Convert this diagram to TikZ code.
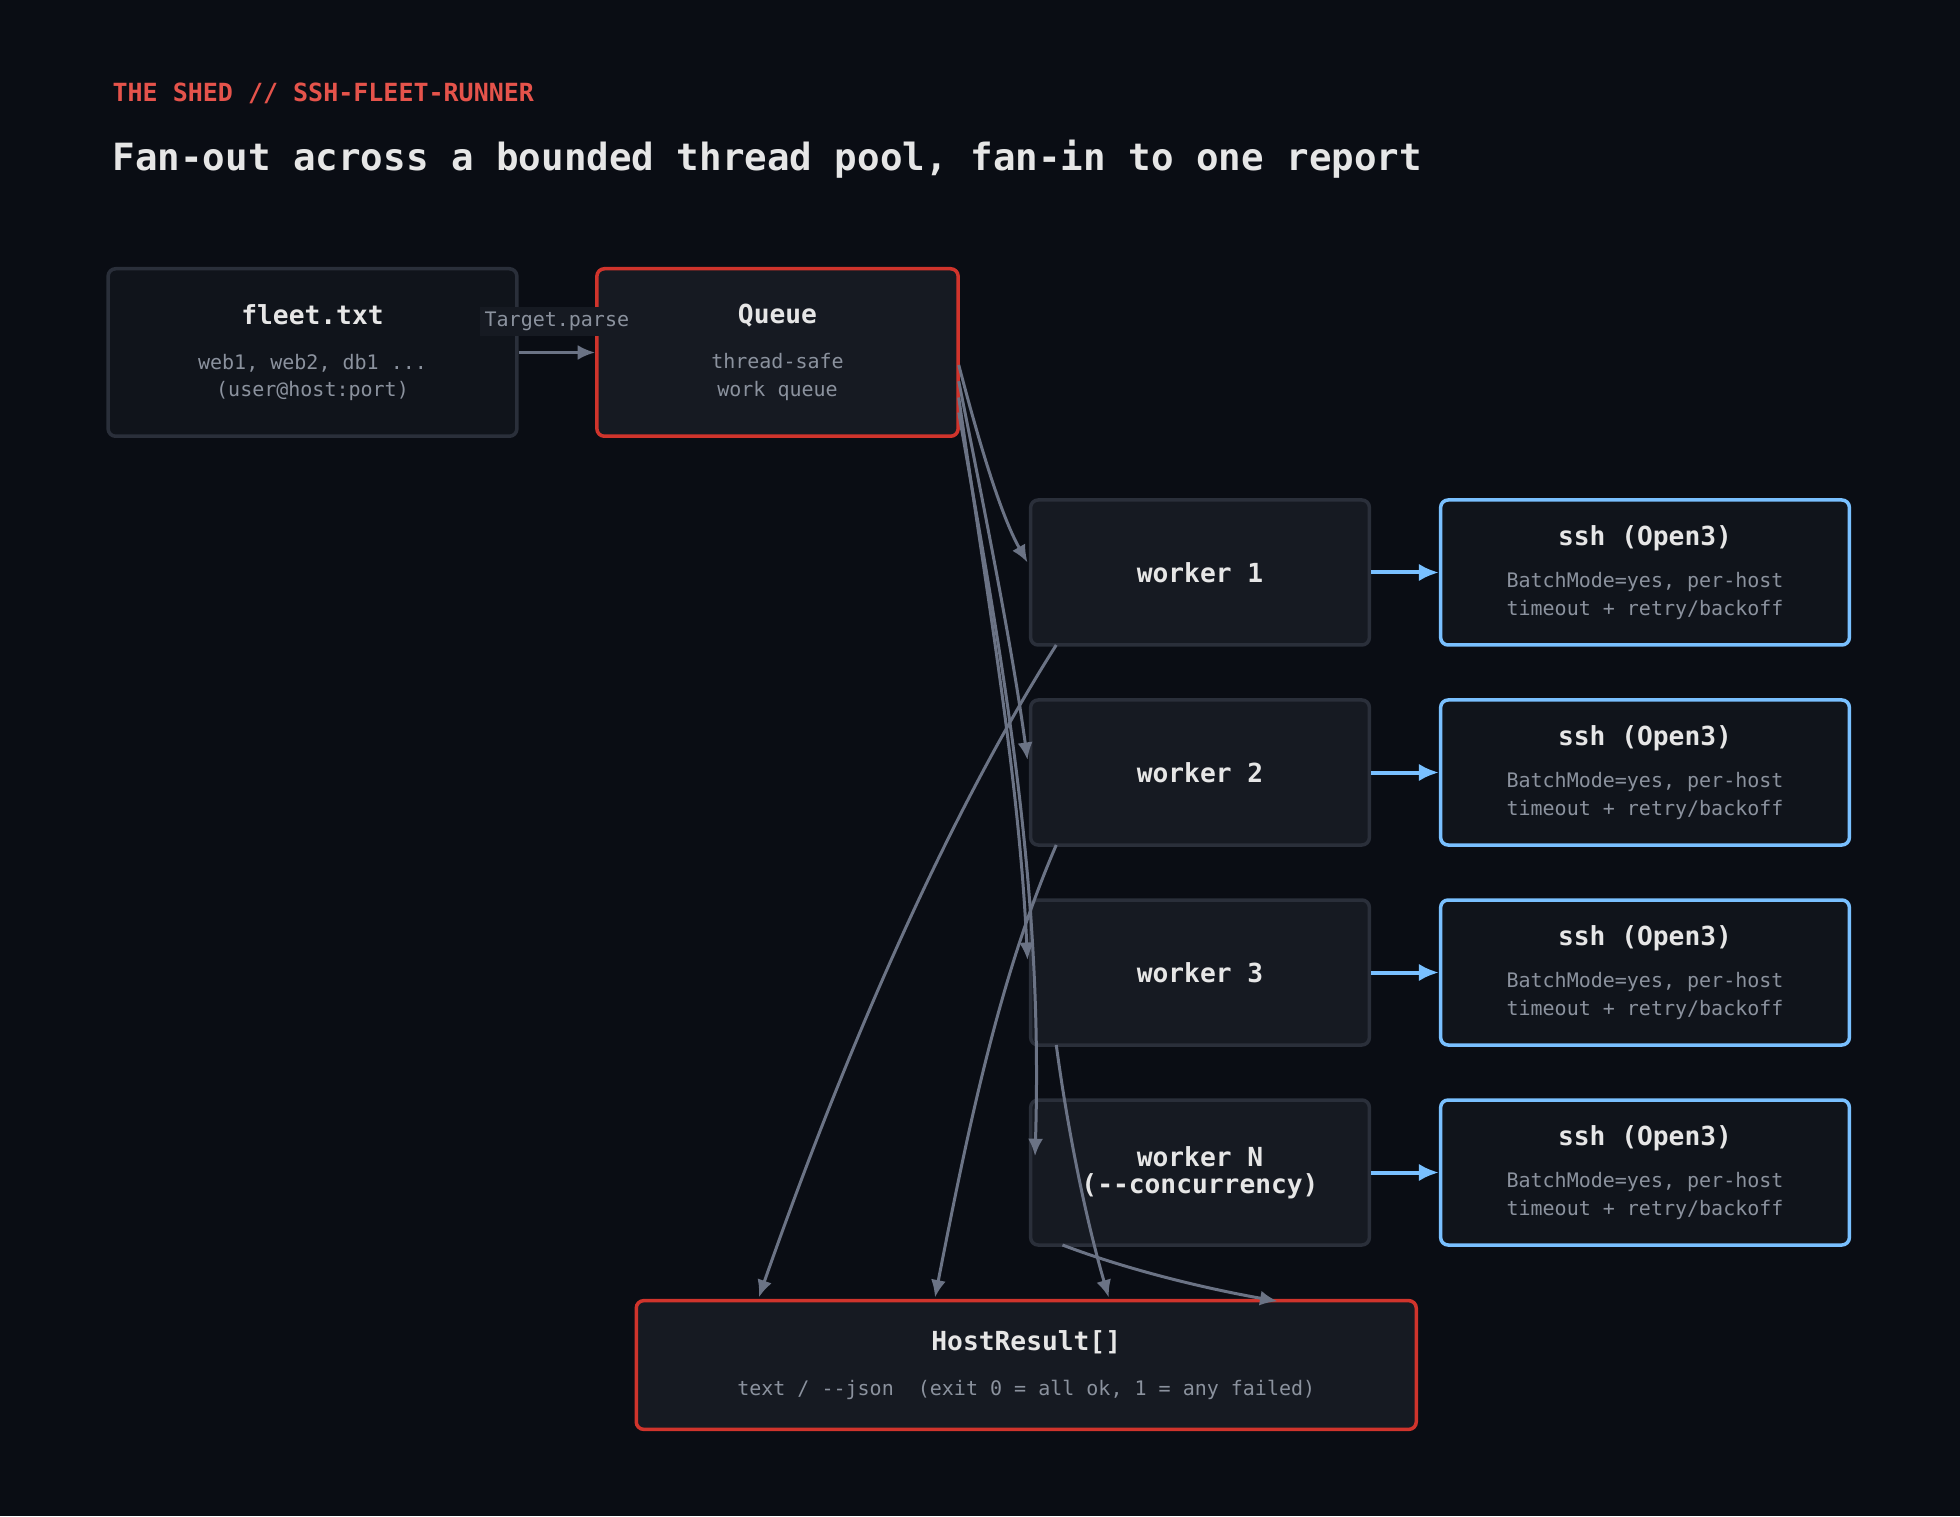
\documentclass[tikz,border=0pt]{standalone}
\usepackage{fontspec}
\setmainfont{DejaVu Sans Mono}
\usetikzlibrary{arrows.meta}
\definecolor{bg}{HTML}{0A0D14}
\definecolor{nfill}{HTML}{161A22}
\definecolor{nfill2}{HTML}{10141B}
\definecolor{gborder}{HTML}{2A2F3A}
\definecolor{rborder}{HTML}{D0342C}
\definecolor{bborder}{HTML}{79C0FF}
\definecolor{edge}{HTML}{6B7385}
\definecolor{ttext}{HTML}{E6E6E6}
\definecolor{stext}{HTML}{8B929E}
\definecolor{hred}{HTML}{E5534B}
\newcommand{\nt}{\bfseries\fontsize{10.5}{12}\selectfont}
\newcommand{\ns}{\mdseries\fontsize{8}{9}\selectfont\color{stext}}
\tikzset{
 box/.style={draw=gborder,line width=1.4pt,fill=nfill,rounded corners=3pt,inner sep=0pt,text=ttext,align=center},
 gbox/.style={box,minimum width=163.5pt,minimum height=67pt},
 qbox/.style={box,draw=rborder,minimum width=144.5pt,minimum height=67pt},
 wbox/.style={box,minimum width=135.5pt,minimum height=58pt},
 sbox/.style={box,draw=bborder,fill=nfill2,minimum width=163.5pt,minimum height=58pt},
 hbox/.style={box,draw=rborder,minimum width=312pt,minimum height=51.5pt},
 e/.style={draw=edge,line width=1.2pt,-{Latex[length=7pt,width=6pt]}},
 be/.style={draw=bborder,line width=1.6pt,-{Latex[length=8pt,width=7pt]}},
}
\begin{document}
\begin{tikzpicture}[x=0.5pt,y=-0.5pt]
\fill[bg] (0,0) rectangle (1568,1213);
\useasboundingbox (0,0) rectangle (1568,1213);
\node[anchor=west,text=hred,font=\bfseries\fontsize{10}{12}\selectfont] (hdr) at (83,75) {THE SHED // SSH-FLEET-RUNNER};
\node[anchor=west,text=ttext,font=\bfseries\fontsize{15}{18}\selectfont] (title) at (83,127) {Fan-out across a bounded thread pool, fan-in to one report};

\node[gbox,fill=nfill2] (fleet) at (250,282) {{\nt fleet.txt}\\[6pt]{\ns web1, web2, db1 ...}\\[-1pt]{\ns (user@host:port)}};
\node[qbox] (queue) at (622,282) {{\nt Queue}\\[6pt]{\ns thread-safe}\\[-1pt]{\ns work queue}};

\node[wbox] (w1) at (960,458) {\nt worker 1};
\node[wbox] (w2) at (960,618) {\nt worker 2};
\node[wbox] (w3) at (960,778) {\nt worker 3};
\node[wbox] (wN) at (960,938) {{\nt worker N}\\[-1pt]{\nt (-{}-concurrency)}};
\foreach \n/\y in {s1/458,s2/618,s3/778,sN/938}{
 \node[sbox] (\n) at (1316,\y) {{\nt ssh (Open3)}\\[5pt]{\ns BatchMode=yes, per-host}\\[-1pt]{\ns timeout + retry/backoff}};
}
\node[hbox] (hr) at (821,1092) {{\nt HostResult[]}\\[6pt]{\ns text / -{}-json\ \ (exit 0 = all ok, 1 = any failed)}};

\draw[e] (fleet.east) -- (queue.west) node[midway,above=6pt,fill=nfill,inner sep=2pt,font=\ns] (lbl) {Target.parse};

\coordinate (q1) at (767,292);
\coordinate (q2) at (767,305);
\coordinate (q3) at (767,318);
\coordinate (q4) at (767,330);
\draw[e] (q1) .. controls (790,380) and (805,420) .. (822,450);
\draw[e] (q2) .. controls (790,420) and (810,520) .. (822,608);
\draw[e] (q3) .. controls (790,480) and (815,620) .. (822,768);
\draw[e] (q4) .. controls (800,520) and (835,700) .. (828,925);

\draw[e] (845,516) .. controls (760,650) and (680,830) .. (607,1038);
\draw[e] (845,676) .. controls (800,780) and (775,900) .. (748,1038);
\draw[e] (845,836) .. controls (855,910) and (870,980) .. (887,1038);
\draw[e] (850,996) .. controls (900,1015) and (960,1030) .. (1022,1041);

\draw[be] (w1.east) -- (s1.west);
\draw[be] (w2.east) -- (s2.west);
\draw[be] (w3.east) -- (s3.west);
\draw[be] (wN.east) -- (sN.west);
\end{tikzpicture}
\end{document}
